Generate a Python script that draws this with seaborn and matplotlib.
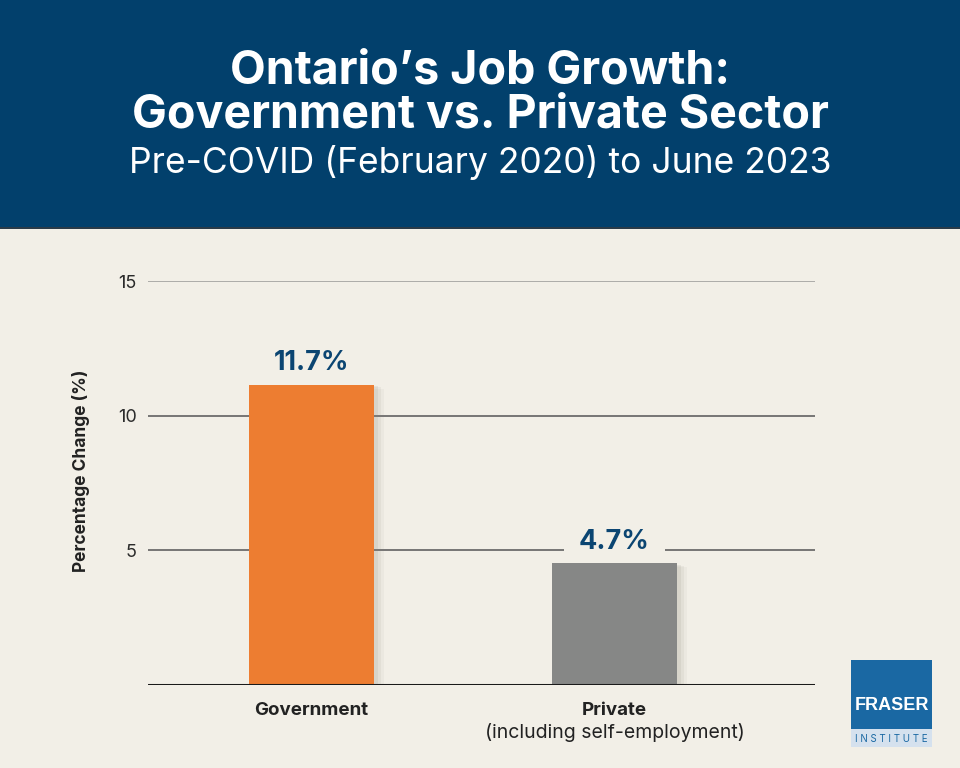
import matplotlib
matplotlib.use("Agg")
import matplotlib.pyplot as plt
import matplotlib.patches as mpatches
import matplotlib.patheffects as pe
import seaborn as sns
import pandas as pd

# ---- data ----
categories = ["Government", "Private"]
category_sublabels = ["", "(including self-employment)"]
bar_values = [11.15, 4.52]          # bar heights as drawn in the reference
value_labels = ["11.7%", "4.7%"]    # annotated values
yticks = [5, 10, 15]

BG = "#f2efe7"
HEADER = "#02406c"
ORANGE = "#ed7d31"
GREY = "#868786"
LABEL_BLUE = "#0b4572"
FONT = "Inter"

sns.set_theme(style="white")
plt.rcParams["font.family"] = [FONT, "DejaVu Sans"]

W, H = 960, 768
fig = plt.figure(figsize=(W / 100, H / 100), dpi=100, facecolor=BG)

def fx(px):
    return px / W

def fy(py):
    return 1 - py / H

# header band
fig.patches.append(mpatches.Rectangle((0, fy(227)), 1, 227 / H, transform=fig.transFigure,
                                      facecolor=HEADER, edgecolor="none", zorder=0))
fig.patches.append(mpatches.Rectangle((0, fy(228.5)), 1, 2 / H, transform=fig.transFigure,
                                      facecolor="#2a3b48", edgecolor="none", zorder=0))

fig.text(0.5, fy(72), "Ontario\u2019s Job Growth:", ha="center", va="center", color="white",
         fontsize=33.5, fontweight="bold")
fig.text(0.5, fy(116), "Government vs. Private Sector", ha="center", va="center", color="white",
         fontsize=33.5, fontweight="bold")
fig.text(0.5, fy(163), "Pre-COVID (February 2020) to June 2023", ha="center", va="center",
         color="white", fontsize=25.5)

# axes
left, right, top, bottom = 148, 815, 281, 685
ax = fig.add_axes([fx(left), fy(bottom), fx(right - left), (bottom - top) / H])
ax.set_facecolor(BG)

df = pd.DataFrame({"category": categories, "value": bar_values})
sns.barplot(data=df, x="category", y="value", hue="category",
            palette=[ORANGE, GREY], width=0.413, legend=False, ax=ax, zorder=3,
            saturation=1, edgecolor="none", linewidth=0)

for p in ax.patches:
    p.set_path_effects([
        pe.SimplePatchShadow(offset=(7, -3), shadow_rgbFace="#8a857b", alpha=0.06),
        pe.SimplePatchShadow(offset=(5, -2), shadow_rgbFace="#8a857b", alpha=0.09),
        pe.SimplePatchShadow(offset=(3, -1), shadow_rgbFace="#8a857b", alpha=0.12),
        pe.Normal()])

ax.set_xlim(-0.54, 1.662)
ax.set_ylim(0, 15)

grid_colors = {5: "#555555", 10: "#555555", 15: "#9a9a98"}
for t in yticks:
    ax.axhline(t, color=grid_colors[t], lw=1.1, zorder=1)
ax.axhline(0, color="#1a1a1a", lw=2.2, zorder=4)

for s in ax.spines.values():
    s.set_visible(False)

ax.set_yticks(yticks)
ax.set_yticklabels([str(t) for t in yticks], fontsize=13, color="#2b2b2b")
ax.tick_params(axis="y", length=0, pad=8)
ax.set_ylabel("Percentage Change (%)", fontsize=12.5, fontweight="bold", color="#222222")
ax.yaxis.set_label_coords((90 - left) / (right - left), (bottom - 471) / (bottom - top))

ax.set_xticks([0, 1])
ax.set_xticklabels(categories, fontsize=13.5, fontweight="bold", color="#222222")
ax.tick_params(axis="x", length=0, pad=12)
ax.set_xlabel("")
for i, sub in enumerate(category_sublabels):
    if sub:
        ax.text(i, -0.117, sub, transform=ax.get_xaxis_transform(), ha="center", va="center",
                fontsize=14, color="#222222")

for i, (v, lab) in enumerate(zip(bar_values, value_labels)):
    ax.text(i, v + 0.8, lab, ha="center", va="center", fontsize=19.5, fontweight="bold",
            color=LABEL_BLUE, zorder=2,
            bbox=dict(boxstyle="square,pad=0.55", facecolor=BG, edgecolor="none"))

# logo
lx0, lx1, ly0, ly1, ly2 = 851, 932, 660, 729, 747
fig.patches.append(mpatches.Rectangle((fx(lx0), fy(ly1)), fx(lx1 - lx0), (ly1 - ly0) / H,
                                      transform=fig.transFigure, facecolor="#1a68a3", edgecolor="none"))
fig.patches.append(mpatches.Rectangle((fx(lx0), fy(ly2)), fx(lx1 - lx0), (ly2 - ly1) / H,
                                      transform=fig.transFigure, facecolor="#d5e1ee", edgecolor="none"))
fig.text(fx((lx0 + lx1) / 2), fy(705), "FRASER", ha="center", va="center", color="white",
         fontsize=13, fontweight="bold", family=["Liberation Sans", "DejaVu Sans"])
fig.text(fx((lx0 + lx1) / 2), fy(738.5), "I N S T I T U T E", ha="center", va="center",
         color="#1a68a3", fontsize=7)

fig.savefig("out.png", dpi=100, facecolor=BG)
